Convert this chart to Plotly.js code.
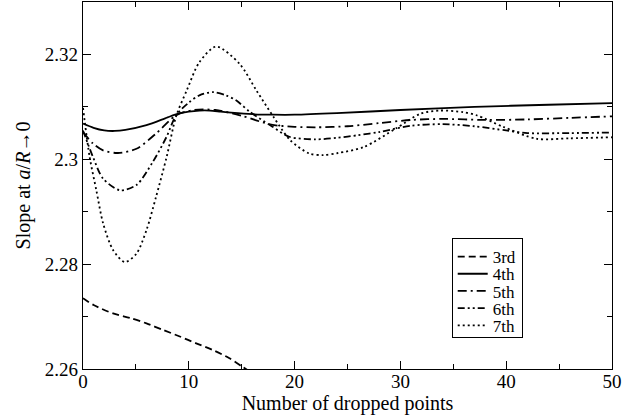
<!DOCTYPE html>
<html>
<head>
<meta charset="utf-8">
<script src="https://cdn.plot.ly/plotly-3.0.1.min.js"></script>
<style>html,body{margin:0;padding:0;background:#fff;}#chart{width:639px;height:417px;}</style>
</head>
<body>
<div id="chart"></div>
<script>
// Data
const seriesNames = ["3rd", "4th", "5th", "6th", "7th"];

const x3rd = [0, 1, 2.84, 4.5, 6.0, 7.5, 9.15, 10.7, 12.3, 13.8, 15.1, 16.5];
const y3rd = [2.2735, 2.2722, 2.2706, 2.2697, 2.2687, 2.2675, 2.2662, 2.2649, 2.2636, 2.2621, 2.2604, 2.2585];

const x4th = [0, 1, 2, 3, 4, 6, 8, 9, 10, 11, 12, 13, 14, 16, 18, 20, 24, 30, 37, 44, 50];
const y4th = [2.3068, 2.3060, 2.3055, 2.3054, 2.3056, 2.3065, 2.3080, 2.3087, 2.3091, 2.3093, 2.3093, 2.3091, 2.3089, 2.3086, 2.3085, 2.3085, 2.3088, 2.3094, 2.3100, 2.3104, 2.3107];

const x5th = [0, 0.95, 1.9, 3.3, 5.05, 6.9, 8.8, 10.5, 12.5, 15, 17.8, 20, 22, 25, 28, 31, 34, 38, 42, 46, 50];
const y5th = [2.3052, 2.3030, 2.3017, 2.3012, 2.3020, 2.3049, 2.3084, 2.3094, 2.3094, 2.3083, 2.3066, 2.3062, 2.3061, 2.3063, 2.3069, 2.3075, 2.3077, 2.3075, 2.3076, 2.3079, 2.3082];

const x6th = [0, 0.95, 1.9, 3.5, 5.05, 6.6, 7.9, 8.8, 10, 11, 12.3, 13.5, 14.5, 15.8, 17.7, 19.5, 22, 24, 26, 28, 31, 34, 37, 40, 42, 46, 50];
const y6th = [2.3055, 2.3004, 2.2963, 2.2941, 2.2951, 2.2995, 2.3043, 2.3084, 2.3108, 2.3122, 2.3128, 2.3122, 2.3112, 2.3090, 2.3065, 2.3043, 2.3038, 2.3041, 2.3046, 2.3052, 2.3064, 2.3067, 2.3063, 2.3055, 2.3050, 2.3050, 2.3051];

const x7th = [0, 0.63, 1.26, 1.9, 2.84, 3.95, 5.05, 6.0, 6.9, 7.9, 8.8, 9.8, 11.0, 12.6, 14.8, 16.4, 18.0, 19.6, 21.4, 22.7, 24.1, 26.5, 29.6, 31.9, 33.7, 35.9, 37.2, 39.7, 42.9, 46, 50];
const y7th = [2.3098, 2.3004, 2.2941, 2.2878, 2.2827, 2.2804, 2.2820, 2.2865, 2.2928, 2.3004, 2.3082, 2.3131, 2.3185, 2.3215, 2.3182, 2.3131, 2.3081, 2.3036, 2.3011, 2.3008, 2.3012, 2.3023, 2.3059, 2.3087, 2.3093, 2.3090, 2.3084, 2.3062, 2.3039, 2.3040, 2.3042];

const yTickVals = [2.26, 2.28, 2.30, 2.32];
const yTickText = ["2.26", "2.28", "2.3", "2.32"];
const xTickVals = [0, 10, 20, 30, 40, 50];

const FONT = "Liberation Serif, Times New Roman, serif";

function tr(x, y, name, dash) {
  return {x: x, y: y, name: name, type: "scatter", mode: "lines",
    line: {color: "#000", width: 1.8, dash: dash, shape: "spline", smoothing: 0.8}};
}

const data = [
  tr(x3rd, y3rd, seriesNames[0], "7px,4px"),
  tr(x4th, y4th, seriesNames[1], "solid"),
  tr(x5th, y5th, seriesNames[2], "9px,4px,2px,4px"),
  tr(x6th, y6th, seriesNames[3], "7px,3px,2px,3px,2px,3px"),
  tr(x7th, y7th, seriesNames[4], "2px,3px")
];

const layout = {
  width: 639, height: 417,
  margin: {l: 83, r: 27, t: 2, b: 48},
  paper_bgcolor: "#fff", plot_bgcolor: "#fff",
  font: {family: FONT, color: "#000", size: 19},
  showlegend: true,
  legend: {x: 0.697, y: 0.357, xanchor: "left", yanchor: "top",
    bordercolor: "#000", borderwidth: 1, bgcolor: "#fff",
    font: {family: FONT, size: 17, color: "#000"}, tracegroupgap: 0},
  xaxis: {range: [0, 50], tickvals: xTickVals, ticks: "inside", ticklen: 8, tickwidth: 1,
    tickcolor: "#000", showline: true, linecolor: "#000", linewidth: 1.2, mirror: "ticks",
    showgrid: false, zeroline: false, tickfont: {family: FONT, size: 19}, ticklabelstandoff: -5,
    minor: {dtick: 5, tick0: 0, ticks: "inside", ticklen: 5, tickcolor: "#000", showgrid: false},
    title: {text: "Number of dropped points", font: {family: FONT, size: 20}, standoff: 0}},
  yaxis: {range: [2.26, 2.33], tickvals: yTickVals, ticktext: yTickText, ticks: "inside", ticklen: 8, tickwidth: 1,
    tickcolor: "#000", showline: true, linecolor: "#000", linewidth: 1.2, mirror: "ticks",
    showgrid: false, zeroline: false, tickfont: {family: FONT, size: 19},
    minor: {tickvals: [2.27, 2.29, 2.31], ticks: "inside", ticklen: 5, tickcolor: "#000", showgrid: false},
    title: {text: "Slope at <i>a</i>/<i>R</i>\u21920", font: {family: FONT, size: 20}, standoff: 8}}
};

Plotly.newPlot("chart", data, layout, {staticPlot: true, displayModeBar: false}).then(function (gd) {
  // tighten the legend rows to match the compact reference legend
  const items = gd.querySelectorAll(".legend .traces");
  if (!items.length) return;
  const m0 = /translate\(\s*([-\d.]+)[ ,]+([-\d.]+)\s*\)/.exec(items[0].getAttribute("transform"));
  if (!m0) return;
  const x0 = parseFloat(m0[1]), y0 = parseFloat(m0[2]);
  const step = 17.2;
  items.forEach(function (el, i) {
    el.setAttribute("transform", "translate(" + x0 + "," + (y0 + i * step) + ")");
  });
  const h = y0 + (items.length - 1) * step + 12;
  gd.querySelectorAll(".legend rect.bg").forEach(function (r) { r.setAttribute("height", h); });
});
</script>
</body>
</html>
